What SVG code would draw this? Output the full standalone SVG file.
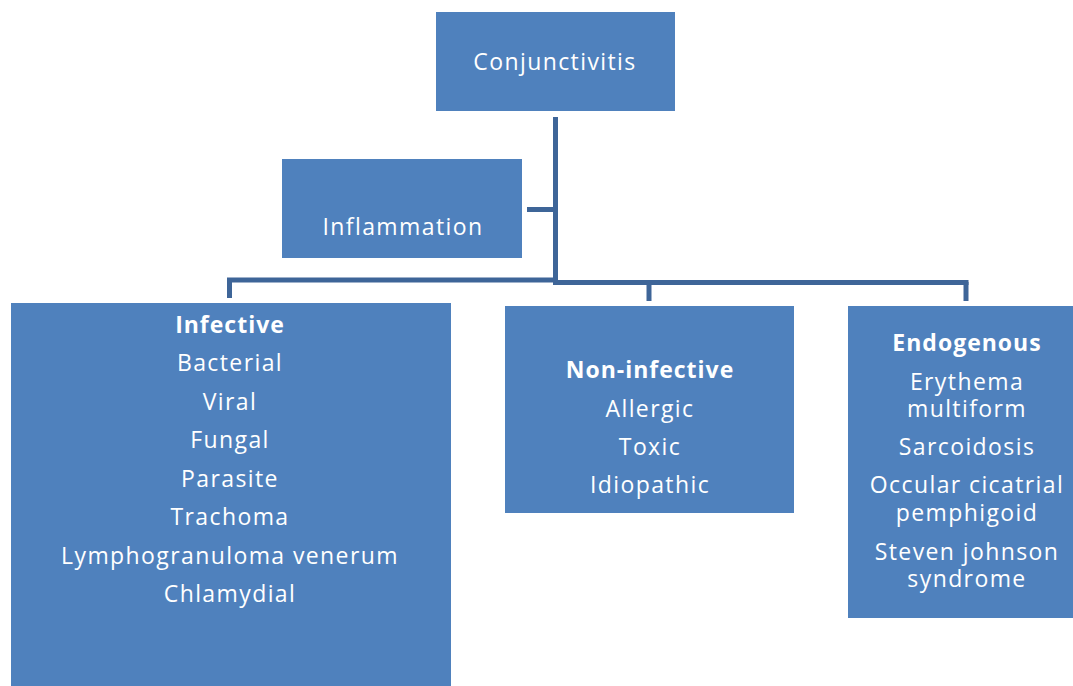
<svg xmlns="http://www.w3.org/2000/svg" width="1073" height="686" viewBox="0 0 1073 686">
<style>
.box{fill:#4F81BD}
.t{font-family:"Open Sans","Noto Sans","Liberation Sans",sans-serif;font-size:23px;letter-spacing:1.4px;fill:#FFFFFF;text-anchor:middle}
.b{font-weight:bold;letter-spacing:1px}
.c{stroke:#3E6598;stroke-width:5;fill:none}
</style>
<rect width="1073" height="686" fill="#FFFFFF"/>
<g id="connectors">
<line class="c" x1="555.5" y1="117" x2="555.5" y2="284"/>
<line class="c" x1="527" y1="209.5" x2="558" y2="209.5" stroke-width="4"/>
<line class="c" x1="227" y1="280" x2="555" y2="280"/>
<line class="c" x1="553" y1="282.5" x2="968.5" y2="282.5"/>
<line class="c" x1="229.5" y1="280" x2="229.5" y2="298"/>
<line class="c" x1="649" y1="282" x2="649" y2="301"/>
<line class="c" x1="966" y1="282" x2="966" y2="301"/>
</g>
<g id="conjunctivitis">
<rect class="box" x="436" y="12" width="239" height="99"/>
<text class="t" x="555" y="70">Conjunctivitis</text>
</g>
<g id="inflammation">
<rect class="box" x="282" y="159" width="240" height="99"/>
<text class="t" x="403" y="235">Inflammation</text>
</g>
<g id="infective">
<rect class="box" x="11" y="303" width="440" height="383"/>
<text class="t b" x="230" y="333">Infective</text>
<text class="t" x="230" y="371">Bacterial</text>
<text class="t" x="230" y="410">Viral</text>
<text class="t" x="230" y="448">Fungal</text>
<text class="t" x="230" y="487">Parasite</text>
<text class="t" x="230" y="525">Trachoma</text>
<text class="t" x="230" y="564">Lymphogranuloma venerum</text>
<text class="t" x="230" y="602">Chlamydial</text>
</g>
<g id="non-infective">
<rect class="box" x="505" y="306" width="289" height="207"/>
<text class="t b" x="650" y="378">Non-infective</text>
<text class="t" x="650" y="417">Allergic</text>
<text class="t" x="650" y="455">Toxic</text>
<text class="t" x="650" y="493">Idiopathic</text>
</g>
<g id="endogenous">
<rect class="box" x="848" y="306" width="225" height="312"/>
<text class="t b" x="967" y="351">Endogenous</text>
<text class="t" x="967" y="390">Erythema<tspan x="967" dy="27">multiform</tspan></text>
<text class="t" x="967" y="455">Sarcoidosis</text>
<text class="t" x="967" y="493">Occular cicatrial<tspan x="967" dy="28">pemphigoid</tspan></text>
<text class="t" x="967" y="560">Steven johnson<tspan x="967" dy="27">syndrome</tspan></text>
</g>
</svg>
